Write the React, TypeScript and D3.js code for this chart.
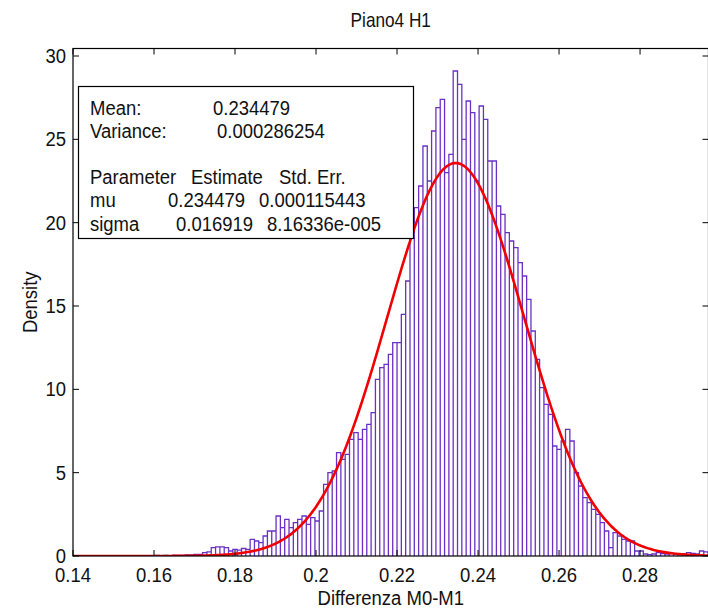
import React from "react";
import * as d3 from "d3";

// ---- data ----
const binStart = 0.14;
const binEnd = 0.2968;
const densities: number[] = [
  // bins 0-24
  0, 0, 0, 0, 0, 0, 0, 0, 0, 0,
  0, 0, 0, 0, 0, 0, 0, 0, 0, 0.03,
  0, 0.03, 0, 0.03, 0.03,
  // 25-40
  0.03, 0.06, 0.06, 0.1, 0.1, 0.2, 0.25, 0.5, 0.55, 0.55, 0.5, 0.3, 0.4, 0.35, 0.45, 0.4,
  // 41-57
  1.0, 0.9, 0.8, 1.2, 1.5, 1.5, 2.4, 1.7, 2.2, 1.7, 2.0, 2.2, 2.4, 1.9, 2.3, 2.1, 2.7,
  // 58-69
  4.3, 5.0, 5.1, 6.2, 5.8, 6.1, 7.0, 7.4, 7.0, 7.6, 7.9, 8.6,
  // 70-79
  10.6, 11.3, 11.5, 12.1, 12.8, 12.8, 14.5, 16.5, 19.2, 20.9,
  // 80-89
  22.2, 24.6, 22.5, 25.5, 26.9, 27.4, 23.0, 24.1, 29.1, 28.3,
  // 90-99
  25.0, 27.3, 26.6, 22.5, 27.0, 26.2, 23.7, 23.7, 21.0, 20.5,
  // 100-109
  19.4, 18.9, 18.5, 17.6, 16.8, 15.4, 13.5, 11.8, 10.1, 9.1,
  // 110-122
  8.5, 6.6, 6.4, 6.9, 7.6, 6.9, 5.0, 4.2, 3.5, 3.2, 2.8, 2.5, 2.0,
  // 123-146
  1.5, 0.5, 1.4, 1.2, 1.0, 0.9, 0.9, 0.3, 0.3, 0.12, 0.08, 0.12, 0.2, 0.15,
  0.12, 0.15, 0.12, 0.08, 0.12, 0.2, 0.15, 0.12, 0.3, 0.25,
];
const fitMu = 0.234479;
const fitSigma = 0.016919;
const xTicks = [0.14, 0.16, 0.18, 0.2, 0.22, 0.24, 0.26, 0.28];
const yTicks = [0, 5, 10, 15, 20, 25, 30];
const titleText = "Piano4 H1";
const xLabel = "Differenza M0-M1";
const yLabel = "Density";
const statsRows: { label: string; value: string }[] = [
  { label: "Mean:", value: "0.234479" },
  { label: "Variance:", value: "0.000286254" },
];
const paramHeader = ["Parameter", "Estimate", "Std. Err."];
const paramRows: string[][] = [
  ["mu", "0.234479", "0.000115443"],
  ["sigma", "0.016919", "8.16336e-005"],
];

// ---- layout ----
const W = 708;
const H = 609;
const L = 73;
const R = 708.5;
const T = 48.5;
const B = 556;
const FONT = "'Liberation Sans', Arial, Helvetica, sans-serif";
const FS = 21;
const SX = 0.88;

function T2({ x, y, children, anchor = "start", rotate = 0, size = FS, sx = SX }: any) {
  const tr = `translate(${x},${y})` + (rotate ? ` rotate(${rotate})` : "") + ` scale(${sx},1)`;
  return (
    <text transform={tr} textAnchor={anchor} fontFamily={FONT} fontSize={size} fill="#111">
      {children}
    </text>
  );
}

export default function App() {
  const x = d3.scaleLinear().domain([0.14, 0.2969]).range([L, R]);
  const y = d3.scaleLinear().domain([0, 30.45]).range([B, T]);
  const n = densities.length;
  const bw = (binEnd - binStart) / n;

  const curvePts = d3.range(0, 401).map((i) => {
    const v = 0.14 + (i / 400) * (0.2969 - 0.14);
    const d = Math.exp(-0.5 * ((v - fitMu) / fitSigma) ** 2) / (fitSigma * Math.sqrt(2 * Math.PI));
    return [v, d] as [number, number];
  });
  const line = d3
    .line<[number, number]>()
    .x((d) => x(d[0]))
    .y((d) => y(d[1]))
    .curve(d3.curveLinear);

  const barPath = densities
    .map((d, i) => {
      const x0 = x(binStart + i * bw);
      const x1 = x(binStart + (i + 1) * bw);
      const yy = y(d);
      return `M${x0},${B}V${yy}H${x1}V${B}`;
    })
    .join("");

  const legX = 90;
  const valueX = [213, 217];
  const headX = [90, 191, 279];
  const rowX = [
    [90, 168, 259],
    [90, 176, 267],
  ];

  return (
    <svg width={W} height={H} style={{ position: "absolute", left: 0, top: 0, background: "#fff" }}>
      <rect x={0} y={0} width={W} height={H} fill="#fff" />
      <defs>
        <clipPath id="plotclip">
          <rect x={L} y={T} width={R - L} height={B - T} />
        </clipPath>
      </defs>
      <g clipPath="url(#plotclip)">
        {densities.map((d, i) => (
          <rect
            key={i}
            x={x(binStart + i * bw)}
            y={y(d)}
            width={x(binStart + (i + 1) * bw) - x(binStart + i * bw)}
            height={B - y(d)}
            fill="#fff"
            stroke="none"
          />
        ))}
        <path d={barPath} fill="none" stroke="#6a30c4" strokeWidth={1.3} />
        <path d={line(curvePts) || ""} fill="none" stroke="#f00000" strokeWidth={2.6} />
      </g>
      {/* axes box */}
      <rect x={L} y={T} width={R - L} height={B - T} fill="none" stroke="#000" strokeWidth={1.2} />
      {xTicks.map((t) => (
        <g key={"xt" + t}>
          <line x1={x(t)} x2={x(t)} y1={B} y2={B - 6} stroke="#000" strokeWidth={1} />
          <line x1={x(t)} x2={x(t)} y1={T} y2={T + 6} stroke="#000" strokeWidth={1} />
          <T2 x={x(t)} y={582} anchor="middle">
            {String(t)}
          </T2>
        </g>
      ))}
      {yTicks.map((t) => (
        <g key={"yt" + t}>
          <line x1={L} x2={L + 6} y1={y(t)} y2={y(t)} stroke="#000" strokeWidth={1} />
          <line x1={R} x2={R - 6} y1={y(t)} y2={y(t)} stroke="#000" strokeWidth={1} />
          <T2 x={66} y={y(t) + 7} anchor="end">
            {String(t)}
          </T2>
        </g>
      ))}
      <T2 x={(L + R) / 2} y={27} anchor="middle" sx={0.82}>
        {titleText}
      </T2>
      <T2 x={(L + R) / 2} y={605} anchor="middle">
        {xLabel}
      </T2>
      <T2 x={37} y={(T + B) / 2} anchor="middle" rotate={-90}>
        {yLabel}
      </T2>
      {/* stats box */}
      <rect x={78.5} y={86.5} width={335} height={152} fill="#fff" stroke="#000" strokeWidth={1.2} />
      {statsRows.map((r, i) => (
        <g key={r.label}>
          <T2 x={legX} y={115 + i * 23}>{r.label}</T2>
          <T2 x={valueX[i]} y={115 + i * 23}>{r.value}</T2>
        </g>
      ))}
      {paramHeader.map((h, i) => (
        <T2 key={h} x={headX[i]} y={184}>
          {h}
        </T2>
      ))}
      {paramRows.map((row, ri) =>
        row.map((c, ci) => (
          <T2 key={ri + "-" + ci} x={rowX[ri][ci]} y={207 + ri * 24}>
            {c}
          </T2>
        ))
      )}
    </svg>
  );
}
